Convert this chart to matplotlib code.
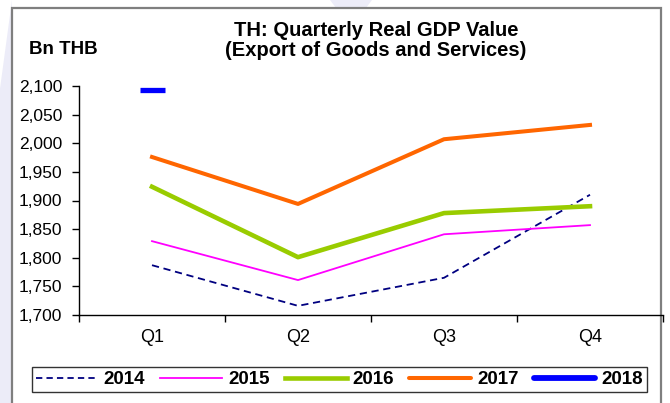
import matplotlib
matplotlib.use("Agg")
import matplotlib.pyplot as plt
from matplotlib.lines import Line2D
from matplotlib.patches import Rectangle, Polygon

plt.rcParams['font.family'] = ['Liberation Sans', 'DejaVu Sans']

# Real GDP, export of goods and services, Bn THB
quarters = ['Q1', 'Q2', 'Q3', 'Q4']
gdp_2014 = [1787, 1716, 1765, 1910]
gdp_2015 = [1829, 1761, 1841, 1857]
gdp_2016 = [1924, 1801, 1878, 1890]
gdp_2017 = [1976, 1894, 2007, 2032]
gdp_2018 = [2093]

W, H = 670, 403
fig = plt.figure(figsize=(W / 100, H / 100), dpi=100)
fig.patch.set_facecolor('white')

# soft lavender backdrop around the chart frame
fig.patches.append(Polygon([(0, 0), (12 / W, 0), (12 / W, 1), (0, 0.78)],
                           closed=True, transform=fig.transFigure,
                           facecolor='#ECECF8', edgecolor='none', zorder=0))
fig.patches.append(Polygon([(330 / W, 1), (372 / W, 1), (366 / W, 395 / H), (336 / W, 395 / H)],
                           closed=True, transform=fig.transFigure,
                           facecolor='#ECECF8', edgecolor='none', zorder=0))
# chart frame
fig.patches.append(Rectangle((12 / W, -0.05), 649 / W, (H - 8) / H + 0.05,
                             transform=fig.transFigure, facecolor='white',
                             edgecolor='#7F7F7F', linewidth=1.6, zorder=1))

ax = fig.add_axes([79 / W, (H - 315) / H, 584 / W, 229 / H], zorder=2)
ax.set_facecolor('none')

x = list(range(len(quarters)))
ax.plot(x, gdp_2014, color='#000080', lw=1.3, linestyle=(0, (4, 2.6)))
ax.plot(x, gdp_2015, color='#FF00FF', lw=1.3)
ax.plot(x, gdp_2016, color='#99CC00', lw=3.3)
ax.plot(x, gdp_2017, color='#FF6600', lw=2.9)
ax.plot(x[:len(gdp_2018)], gdp_2018, color='#0000FF', linestyle='none',
        marker='_', markersize=18, markeredgewidth=3.8)

ax.set_xlim(-0.5, 3.5)
ax.set_ylim(1700, 2100)
ax.set_yticks(range(1700, 2101, 50))
ax.set_yticklabels([f'{v:,}' for v in range(1700, 2101, 50)], fontsize=12.5)
ax.set_xticks([-0.5, 0.5, 1.5, 2.5, 3.5])
ax.set_xticklabels([])
ax.set_xticks(x, minor=True)
ax.set_xticklabels(quarters, minor=True, fontsize=13)
ax.tick_params(axis='x', which='minor', length=0, pad=10)
ax.tick_params(axis='both', which='major', direction='out', length=5, width=1, color='black')
ax.tick_params(axis='y', pad=7)
for side in ['top', 'right']:
    ax.spines[side].set_visible(False)
for side in ['left', 'bottom']:
    ax.spines[side].set_linewidth(1)

fig.text(376 / W, 1 - 30 / H, 'TH: Quarterly Real GDP Value', ha='center', va='center',
         fontsize=14.5, fontweight='bold')
fig.text(376 / W, 1 - 50 / H, '(Export of Goods and Services)', ha='center', va='center',
         fontsize=14.5, fontweight='bold')
fig.text(29 / W, 1 - 50 / H, 'Bn THB', ha='left', va='center', fontsize=13.5, fontweight='bold')

handles = [
    Line2D([], [], color='#000080', lw=1.3, linestyle=(0, (3.5, 2.3))),
    Line2D([], [], color='#FF00FF', lw=1.3),
    Line2D([], [], color='#99CC00', lw=3.3),
    Line2D([], [], color='#FF6600', lw=2.9, solid_capstyle='round'),
    Line2D([], [], color='#0000FF', lw=4.2, solid_capstyle='round'),
]
labels = ['2014', '2015', '2016', '2017', '2018']
leg = fig.legend(handles, labels, ncol=5, loc='center',
                 bbox_to_anchor=(339.5 / W, 1 - 379.5 / H),
                 prop={'size': 13.5, 'weight': 'bold'}, frameon=True, fancybox=False,
                 handlelength=3.3, handletextpad=0.32, columnspacing=0.8,
                 borderpad=0.2, borderaxespad=0)
leg.get_frame().set_edgecolor('black')
leg.get_frame().set_linewidth(1)
leg.set_zorder(3)

fig.savefig('out.png', dpi=100)
